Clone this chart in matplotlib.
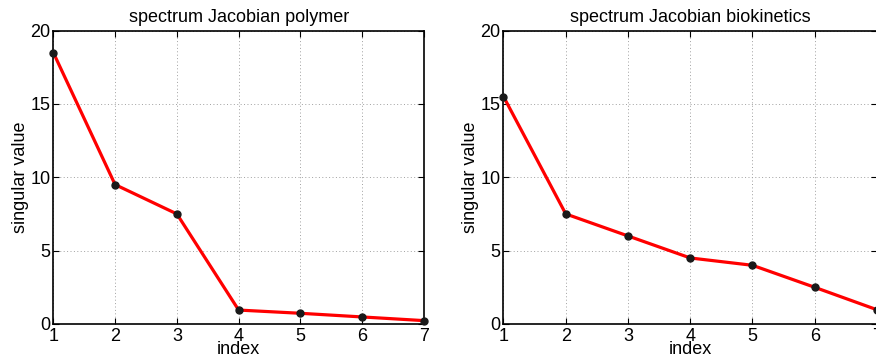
import matplotlib
matplotlib.use("Agg")
import matplotlib.pyplot as plt

plt.rcParams['font.family'] = ['Liberation Sans', 'DejaVu Sans']

index = [1, 2, 3, 4, 5, 6, 7]
sv_polymer = [18.5, 9.5, 7.5, 0.95, 0.73, 0.48, 0.23]
sv_biokinetics = [15.5, 7.5, 6.0, 4.5, 4.0, 2.5, 0.97]
titles = ["spectrum Jacobian polymer", "spectrum Jacobian biokinetics"]

W, H = 876, 362
fig = plt.figure(figsize=(W / 100, H / 100), dpi=100)

# axes boxes in pixels: (left, top, right, bottom); the right one runs past the edge
boxes = [(53.3, 30.5, 424, 324), (503.5, 30.5, 877, 324)]

for (l, t, r, b), vals, title in zip(boxes, [sv_polymer, sv_biokinetics], titles):
    ax = fig.add_axes([l / W, 1 - b / H, (r - l) / W, (b - t) / H])
    ax.plot(index, vals, color='#ff0000', lw=2.3, zorder=3, clip_on=False)
    ax.plot(index, vals, 'o', color='#1a1a1a', ms=5, zorder=4, clip_on=False)
    ax.set_xlim(1, 7)
    ax.set_ylim(0, 20)
    ax.set_xticks(index)
    ax.set_yticks([0, 5, 10, 15, 20])
    ax.grid(True, linestyle=(0, (1, 2.5)), color='#a0a0a0', lw=0.7)
    ax.tick_params(direction='in', top=True, right=True, labelsize=13,
                   length=4, width=0.8, pad=2, colors='black')
    ax.tick_params(axis='x', pad=3)
    for s in ax.spines.values():
        s.set_linewidth(1.2)
    ax.set_title(title, fontsize=13, pad=6)
    ax.set_xlabel('index', fontsize=13, labelpad=-3)
    ax.set_ylabel('singular value', fontsize=13, labelpad=1)

fig.savefig('out.png', dpi=100)
